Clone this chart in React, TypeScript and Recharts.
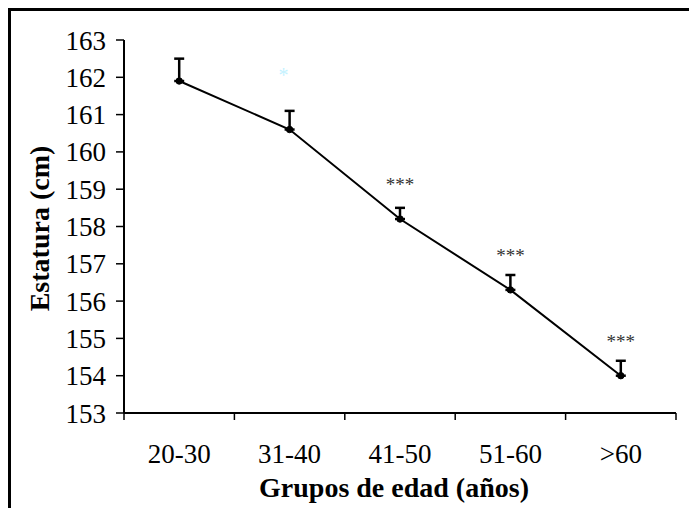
import {ErrorBar, Label, LabelList, Line, LineChart, XAxis, YAxis} from 'recharts'

const GROUPS = ['20-30', '31-40', '41-50', '51-60', '>60']
const HEIGHT_CM = [161.9, 160.6, 158.2, 156.3, 154.0]
const ERR_UP = [0.6, 0.5, 0.3, 0.4, 0.4]
const SIG = ['', '', '***', '***', '***']
const GHOST = ['', '*', '', '', '']
const Y_TICKS = [153, 154, 155, 156, 157, 158, 159, 160, 161, 162, 163]

const DATA = GROUPS.map((g, i) => ({
  group: g,
  value: HEIGHT_CM[i],
  err: [0, ERR_UP[i]],
  sig: SIG[i],
  ghost: GHOST[i],
}))

const W = 678
const H = 497
const MARGIN = { top: 29, right: 13, bottom: 0, left: 0 }
const Y_W = 113
const X_H = 95
const STEP = (W - MARGIN.left - MARGIN.right - Y_W) / GROUPS.length
const FONT = "'Liberation Serif', 'Times New Roman', 'DejaVu Serif', serif"

function GroupTick(props: any) {
  const { x, y, payload, index } = props
  return (
    <g>
      <line x1={x - STEP / 2} x2={x - STEP / 2} y1={y} y2={y + 7} stroke="#000" strokeWidth={1.5} />
      {index === GROUPS.length - 1 && (
        <line x1={x + STEP / 2} x2={x + STEP / 2} y1={y} y2={y + 7} stroke="#000" strokeWidth={1.5} />
      )}
      <text x={x} y={y + 50} textAnchor="middle" style={{ fontFamily: FONT }} fontSize={27} fill="#000">
        {payload.value}
      </text>
    </g>
  )
}

function SigLabel(props: any) {
  const { x, y, value } = props
  if (!value) return null
  return (
    <text x={x} y={y - 28} textAnchor="middle" style={{ fontFamily: FONT }} fontSize={19} fill="#333">
      {value}
    </text>
  )
}

function GhostLabel(props: any) {
  const { x, y, value } = props
  if (!value) return null
  return (
    <text x={x - 6} y={y - 48} textAnchor="middle" style={{ fontFamily: FONT }} fontSize={20} fill="#c4f2ff">
      {value}
    </text>
  )
}

export default function App() {
  return (
    <div style={{ paddingTop: 8, paddingLeft: 8, fontFamily: FONT }}>
      <style>{'body{margin:0;overflow:hidden}'}</style>
      <div style={{ width: W, height: H, borderTop: '3px solid #000', borderLeft: '3px solid #000', background: '#fff' }}>
        <LineChart width={W} height={H} data={DATA} margin={MARGIN} style={{ fontFamily: FONT }}>
          <XAxis
            dataKey="group"
            height={X_H}
            interval={0}
            padding={{ left: STEP / 2, right: STEP / 2 }}
            tickSize={0}
            tickMargin={0}
            tickLine={false}
            axisLine={{ stroke: '#000', strokeWidth: 2 }}
            tick={<GroupTick />}
          >
            <Label
              content={({ viewBox }: any) => (
                <text
                  x={viewBox.x + viewBox.width / 2 - 6}
                  y={viewBox.y + viewBox.height - 11}
                  textAnchor="middle"
                  style={{ fontFamily: FONT }}
                  fontWeight="bold"
                  fontSize={28}
                  fill="#000"
                >
                  Grupos de edad (años)
                </text>
              )}
            />
          </XAxis>
          <YAxis
            width={Y_W}
            domain={[153, 163]}
            ticks={Y_TICKS}
            interval={0}
            allowDataOverflow
            tickSize={8}
            tickMargin={10}
            axisLine={{ stroke: '#000', strokeWidth: 2 }}
            tickLine={{ stroke: '#000', strokeWidth: 1.5 }}
            tick={{ fontSize: 27, fill: '#000', style: { fontFamily: FONT } }}
          >
            <Label
              content={({ viewBox }: any) => (
                <text
                  transform={`translate(${viewBox.x + 28},${viewBox.y + viewBox.height / 2 + 2}) rotate(-90)`}
                  textAnchor="middle"
                  dominantBaseline="central"
                  style={{ fontFamily: FONT }}
                  fontWeight="bold"
                  fontSize={28}
                  fill="#000"
                >
                  Estatura (cm)
                </text>
              )}
            />
          </YAxis>
          <Line
            type="linear"
            dataKey="value"
            stroke="#000"
            strokeWidth={2}
            dot={{ r: 3.2, fill: '#000', stroke: '#000', strokeWidth: 1 }}
            activeDot={false}
            isAnimationActive={false}
          >
            <ErrorBar dataKey="err" direction="y" width={5} stroke="#000" strokeWidth={2.5} />
            <LabelList dataKey="sig" content={<SigLabel />} />
            <LabelList dataKey="ghost" content={<GhostLabel />} />
          </Line>
        </LineChart>
      </div>
    </div>
  )
}
